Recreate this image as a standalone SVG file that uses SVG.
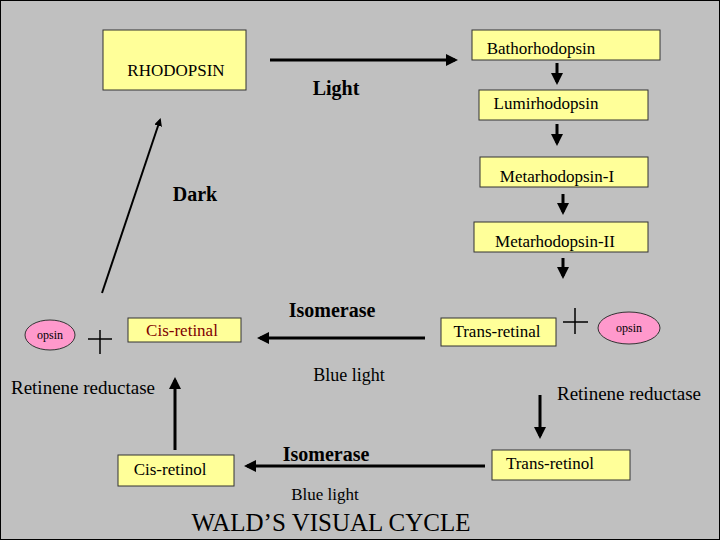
<svg xmlns="http://www.w3.org/2000/svg" width="720" height="540" viewBox="0 0 720 540">
<defs>
<style>
.b{fill:#ffff99;stroke:#333;stroke-width:1}
text{font-family:"Liberation Serif","Times New Roman","DejaVu Serif",serif}
.t{font-size:17px;fill:#000}
.bold{font-size:20px;font-weight:bold;fill:#000}
.c{stroke:#000;fill:none}
.o{fill:#ff99cc;stroke:#333}
</style>
<marker id="a" markerWidth="4" markerHeight="4" refX="3" refY="2" orient="auto" markerUnits="strokeWidth"><path d="M0,0L4,2L0,4z" fill="#000"/></marker>
</defs>
<rect x="0.5" y="0.5" width="719" height="539" fill="#c0c0c0" stroke="#000"/>
<g id="rhodopsin"><rect class="b" x="103" y="30" width="143" height="60"/><text class="t" x="176" y="76" text-anchor="middle">RHODOPSIN</text></g>
<g id="batho"><rect class="b" x="472" y="30" width="188" height="30"/><text class="t" x="541" y="54" text-anchor="middle">Bathorhodopsin</text></g>
<g id="lumi"><rect class="b" x="479" y="90" width="169" height="30"/><text class="t" x="546" y="109" text-anchor="middle">Lumirhodopsin</text></g>
<g id="meta1"><rect class="b" x="480" y="157" width="168" height="30"/><text class="t" x="557" y="182" text-anchor="middle">Metarhodopsin-I</text></g>
<g id="meta2"><rect class="b" x="474" y="222" width="174" height="30"/><text class="t" x="555" y="247" text-anchor="middle">Metarhodopsin-II</text></g>
<g id="cisretinal"><rect class="b" x="128" y="318" width="113" height="24"/><text class="t" x="182" y="336" text-anchor="middle" style="fill:#800000">Cis-retinal</text></g>
<g id="transretinal"><rect class="b" x="441" y="318" width="115" height="28"/><text class="t" x="497" y="337" text-anchor="middle">Trans-retinal</text></g>
<g id="cisretinol"><rect class="b" x="118" y="455" width="116" height="31"/><text class="t" x="170" y="475" text-anchor="middle">Cis-retinol</text></g>
<g id="transretinol"><rect class="b" x="492" y="450" width="138" height="30"/><text class="t" x="550" y="469" text-anchor="middle">Trans-retinol</text></g>
<g id="opsinL"><ellipse class="o" cx="50" cy="335" rx="25" ry="15"/><text class="t" x="50" y="339" text-anchor="middle" style="font-size:12px">opsin</text></g>
<g id="opsinR"><ellipse class="o" cx="629" cy="328" rx="31" ry="16"/><text class="t" x="629" y="332" text-anchor="middle" style="font-size:12px">opsin</text></g>
<g id="labels">
<text class="bold" x="336" y="95" text-anchor="middle">Light</text>
<text class="bold" x="195" y="201" text-anchor="middle">Dark</text>
<text class="bold" x="332" y="317" text-anchor="middle">Isomerase</text>
<text class="bold" x="326" y="461" text-anchor="middle">Isomerase</text>
<text class="t" x="349" y="381" text-anchor="middle" style="font-size:18px">Blue light</text>
<text class="t" x="325" y="500" text-anchor="middle">Blue light</text>
<text class="t" x="83" y="394" text-anchor="middle" style="font-size:19px">Retinene reductase</text>
<text class="t" x="629" y="400" text-anchor="middle" style="font-size:19px">Retinene reductase</text>
<text class="t" x="331" y="531" text-anchor="middle" style="font-size:25px">WALD’S VISUAL CYCLE</text>
<path class="c" d="M100,330V354M88,339H112M575,308V334M563,322H588" stroke-width="1.5"/>
</g>
<g id="connectors" class="c">
<line x1="270" y1="60" x2="455" y2="60" stroke-width="3" marker-end="url(#a)"/>
<line x1="557" y1="63" x2="557" y2="82" stroke-width="3" marker-end="url(#a)"/>
<line x1="557" y1="124" x2="557" y2="143" stroke-width="3" marker-end="url(#a)"/>
<line x1="563" y1="194" x2="563" y2="212" stroke-width="3" marker-end="url(#a)"/>
<line x1="563" y1="258" x2="563" y2="276" stroke-width="3" marker-end="url(#a)"/>
<line x1="102" y1="293" x2="160" y2="120" stroke-width="2" marker-end="url(#a)"/>
<line x1="425" y1="338" x2="260" y2="338" stroke-width="3" marker-end="url(#a)"/>
<line x1="485" y1="466" x2="247" y2="466" stroke-width="3" marker-end="url(#a)"/>
<line x1="540" y1="395" x2="540" y2="436" stroke-width="3" marker-end="url(#a)"/>
<line x1="175" y1="450" x2="175" y2="380" stroke-width="3" marker-end="url(#a)"/>
</g>
</svg>
